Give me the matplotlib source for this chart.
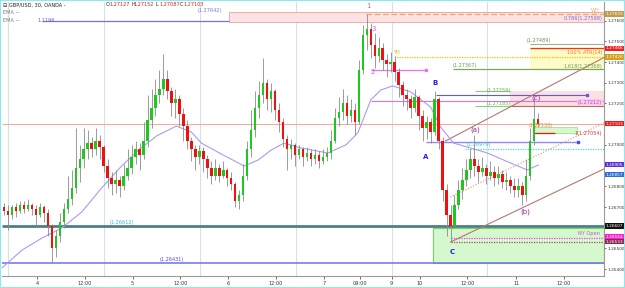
import numpy as np
import matplotlib
matplotlib.use('Agg')
import matplotlib.pyplot as plt
import matplotlib.transforms as mtransforms
from matplotlib.patches import Rectangle

# GBP/USD 30 min candles
first_open = 1.2670
closes = [1.2668, 1.2666, 1.2670, 1.2668, 1.2671, 1.2669, 1.2671, 1.2669, 1.2666, 1.2670,
          1.2667, 1.2661, 1.2650, 1.2656, 1.2663, 1.2669, 1.2674, 1.2679, 1.2689, 1.2693,
          1.2698, 1.2701, 1.2698, 1.2702, 1.2699, 1.2690, 1.2684, 1.2681, 1.2683, 1.2680,
          1.2685, 1.2689, 1.2694, 1.2698, 1.2695, 1.2702, 1.2712, 1.2718, 1.2724, 1.2727,
          1.2732, 1.2726, 1.2720, 1.2722, 1.2715, 1.2709, 1.2702, 1.2698, 1.2694, 1.2697,
          1.2693, 1.2689, 1.2685, 1.2689, 1.2685, 1.2688, 1.2684, 1.2681, 1.2673, 1.2676,
          1.2685, 1.2698, 1.2707, 1.2718, 1.2724, 1.2730, 1.2722, 1.2726, 1.2717, 1.2711,
          1.2703, 1.2698, 1.2700, 1.2695, 1.2698, 1.2694, 1.2696, 1.2693, 1.2695, 1.2692,
          1.2694, 1.2696, 1.2702, 1.2713, 1.2716, 1.2720, 1.2714, 1.2717, 1.2711, 1.2736,
          1.2753, 1.2756, 1.2748, 1.2743, 1.2747, 1.2741, 1.2739, 1.2740, 1.2735, 1.2729,
          1.2724, 1.2722, 1.2718, 1.2723, 1.2714, 1.2708, 1.2711, 1.2706, 1.2722, 1.2702,
          1.2678, 1.2666, 1.2661, 1.2671, 1.2678, 1.2683, 1.2688, 1.2693, 1.2690, 1.2687,
          1.2689, 1.2685, 1.2687, 1.2684, 1.2686, 1.2682, 1.2683, 1.2680, 1.2678, 1.2680,
          1.2676, 1.2685, 1.2702, 1.27127, 1.27103]
highs = [1.2672, 1.2671, 1.2671, 1.2672, 1.2673, 1.2673, 1.2674, 1.2672, 1.2671, 1.2672,
         1.2671, 1.2669, 1.2662, 1.2659, 1.2667, 1.2672, 1.2685, 1.2688, 1.2708, 1.2700,
         1.2708, 1.2707, 1.2704, 1.2708, 1.2705, 1.2700, 1.2693, 1.2687, 1.2688, 1.2685,
         1.2691, 1.2698, 1.2700, 1.2702, 1.2701, 1.2711, 1.2724, 1.2727, 1.2732, 1.2736,
         1.2744, 1.2736, 1.2728, 1.2727, 1.2724, 1.2718, 1.2712, 1.2704, 1.2700, 1.2700,
         1.2699, 1.2695, 1.2692, 1.2693, 1.2691, 1.2692, 1.2689, 1.2687, 1.2682, 1.2678,
         1.2691, 1.2702, 1.2717, 1.2726, 1.2731, 1.2742, 1.2732, 1.2730, 1.2727, 1.2720,
         1.2713, 1.2705, 1.2703, 1.2701, 1.2700, 1.2699, 1.2699, 1.2698, 1.2698, 1.2697,
         1.2698, 1.2699, 1.2707, 1.2718, 1.2723, 1.2727, 1.2724, 1.2722, 1.2720, 1.2741,
         1.2758, 1.2763, 1.2759, 1.2754, 1.2752, 1.2749, 1.2744, 1.2745, 1.2743, 1.2737,
         1.2731, 1.2727, 1.2724, 1.2727, 1.2724, 1.2717, 1.2714, 1.2713, 1.2726, 1.2723,
         1.2704, 1.2681, 1.2671, 1.2676, 1.2683, 1.2689, 1.2693, 1.2698, 1.2705, 1.2693,
         1.2694, 1.2691, 1.2692, 1.2690, 1.2690, 1.2688, 1.2687, 1.2685, 1.2684, 1.2684,
         1.2682, 1.2693, 1.2708, 1.2722, 1.27152]
lows = [1.2666, 1.2659, 1.2664, 1.2665, 1.2667, 1.2667, 1.2668, 1.2666, 1.2661, 1.2665,
        1.2663, 1.2656, 1.2643, 1.2646, 1.2653, 1.2660, 1.2667, 1.2671, 1.2677, 1.2682,
        1.2689, 1.2693, 1.2694, 1.2695, 1.2693, 1.2687, 1.2679, 1.2676, 1.2677, 1.2675,
        1.2678, 1.2683, 1.2686, 1.2691, 1.2688, 1.2693, 1.2699, 1.2708, 1.2714, 1.2720,
        1.2724, 1.2722, 1.2714, 1.2713, 1.2709, 1.2702, 1.2698, 1.2692, 1.2688, 1.2691,
        1.2687, 1.2684, 1.2681, 1.2683, 1.2682, 1.2684, 1.2680, 1.2678, 1.2670, 1.2669,
        1.2673, 1.2683, 1.2694, 1.2704, 1.2713, 1.2720, 1.2717, 1.2716, 1.2712, 1.2706,
        1.2699, 1.2688, 1.2693, 1.2690, 1.2693, 1.2690, 1.2692, 1.2690, 1.2691, 1.2689,
        1.2691, 1.2692, 1.2693, 1.2701, 1.2709, 1.2712, 1.2710, 1.2711, 1.2705, 1.2710,
        1.2734, 1.2746, 1.2742, 1.2737, 1.2740, 1.2736, 1.2733, 1.2735, 1.2731, 1.2723,
        1.2719, 1.2717, 1.2713, 1.2716, 1.2707, 1.2702, 1.2703, 1.2701, 1.2705, 1.2698,
        1.2673, 1.2656, 1.2653, 1.2660, 1.2669, 1.2674, 1.2680, 1.2684, 1.2685, 1.2682,
        1.2685, 1.2681, 1.2683, 1.2680, 1.2681, 1.2679, 1.2678, 1.2677, 1.2675, 1.2675,
        1.2671, 1.2673, 1.2683, 1.2700, 1.27087]
opens = [first_open] + closes[:-1]

# EMA line (bar index, price)
ema_x = [-0.5, 4.5, 9.5, 14.5, 19.5, 24.5, 29.5, 33.75, 38.25, 43.25, 47, 49.5, 54.5,
         60.25, 63.75, 67, 70.25, 74.5, 81.25, 85.75, 88.75, 92, 94.5, 97.5, 102, 107,
         109.5, 112.75, 121.25, 127, 131.25, 134]
ema_y = [1.26406, 1.26492, 1.26550, 1.26599, 1.26676, 1.26792, 1.26898, 1.26975, 1.27043,
         1.27091, 1.27062, 1.27009, 1.26956, 1.26898, 1.26927, 1.26975, 1.27009, 1.26985,
         1.26961, 1.27000, 1.27058, 1.27217, 1.27265, 1.27285, 1.27256, 1.27183, 1.27087,
         1.27009, 1.26961, 1.26913, 1.26879, 1.26903]

price_ticks = [1.264, 1.265, 1.267, 1.268, 1.270, 1.272, 1.273, 1.274, 1.275, 1.276]
time_pos = [8.25, 20.25, 32.25, 44.25, 56.25, 68.25, 80.25, 89.25, 97.25, 104.25, 116.25, 128.5, 140.5]
time_labels = ['4', '12:00', '5', '12:00', '6', '12:00', '7', '09:00', '9', '10', '12:00', '11', '12:00']
session_lines = [1, 25, 49.25, 73.25, 97.25, 121.25]

# price boxes on the right scale
box_prices = [1.27633, 1.27466, 1.27426, 1.27103, 1.26905, 1.26857, 1.26607, 1.26554, 1.26533]
box_colors = ['#c29a4a', '#f02020', '#d4a017', '#f01818', '#5b2fd6', '#2f6fd6', '#111111', '#ff1fd0', '#8a2a50']

fig = plt.figure(figsize=(6.25, 2.88), dpi=100)
ax = fig.add_axes([2 / 625, 12 / 288, 602 / 625, 274 / 288])
ax.set_xlim(-0.5, 150.5)
ax.set_ylim(1.26367, 1.27690)
FS = 3.6
BFS = 3.1

for v in session_lines:
    ax.axvline(v, color='#d5e0ec', lw=0.8, zorder=0)

# zones
ax.add_patch(Rectangle((56.5, 1.27594), 94, 0.00048, fc='#fbe3e3', ec='#f0a0a0', lw=0.6, zorder=1))
ax.add_patch(Rectangle((132, 1.27367), 18.5, 0.00099, fc='#fdfbc8', ec='none', zorder=1))
ax.add_patch(Rectangle((127, 1.27188), 23.5, 0.00071, fc='#fbe0e0', ec='none', zorder=1))
ax.add_patch(Rectangle((132.75, 1.27057), 11, 0.00030, fc='#d8f7cf', ec='#8ee07a', lw=0.5, zorder=1))
ax.add_patch(Rectangle((107.5, 1.26430), 43, 0.00169, fc='#d6f8cf', ec='#6edc5a', lw=0.8, zorder=1))

# horizontal levels
ax.hlines(1.27599, 9.5, 56.5, color='#7b6cf0', lw=0.9, zorder=2)
ax.hlines(1.27632, 90.75, 150.5, color='#e8b060', lw=1.0, ls=(0, (4, 2)), zorder=2)
ax.hlines(1.27489, 132, 150.5, color='#9bb88a', lw=0.8, zorder=2)
ax.hlines(1.27466, 132, 150.5, color='#ff3010', lw=0.9, zorder=2)
ax.hlines(1.27426, 97.75, 150.5, color='#f0c000', lw=0.9, ls=(0, (1, 1)), zorder=2)
ax.hlines(1.27367, 112.5, 150.5, color='#7aa860', lw=0.9, zorder=2)
ax.hlines(1.27360, 92, 105.75, color='#f070f0', lw=0.9, zorder=2)
ax.plot([105.75], [1.27360], 's', ms=1.5, color='#f070f0', zorder=2)
ax.hlines(1.27259, 118.25, 127, color='#8ccf7a', lw=0.8, zorder=2)
ax.hlines(1.27188, 118.25, 127, color='#8ccf7a', lw=0.8, zorder=2)
ax.hlines(1.27188, 127, 150.5, color='#b07060', lw=0.8, zorder=2)
ax.hlines(1.27241, 108.25, 146.25, color='#5a5af0', lw=0.8, zorder=2)
ax.plot([146.25], [1.27241], 's', ms=1.5, color='#5a5af0', zorder=2)
ax.hlines(1.27212, 92, 150.5, color='#e070e0', lw=0.8, zorder=2)
ax.hlines(1.27103, -0.5, 150.5, color='#f4a6a0', lw=0.7, zorder=2)
ax.hlines(1.27057, 132.75, 138.25, color='#f01010', lw=0.9, zorder=2)
ax.hlines(1.27014, 105.75, 144, color='#8c8cf4', lw=1.0, zorder=2)
ax.plot([144], [1.27014], 's', ms=1.5, color='#4a4af0', zorder=2)
ax.hlines(1.26980, 115.75, 150.5, color='#60d0e0', lw=0.9, ls=(0, (1, 1)), zorder=2)
ax.hlines(1.26608, -0.5, 150.5, color='#4f7f86', lw=2.0, zorder=2)
ax.hlines(1.26552, 112, 150.5, color='#f040f0', lw=0.9, ls=(0, (1, 1)), zorder=2)
ax.hlines(1.26531, 112, 150.5, color='#a05050', lw=0.9, ls=(0, (1, 1)), zorder=2)
ax.hlines(1.26430, -0.5, 150.5, color='#7070f0', lw=1.1, zorder=2)

# channel lines
ax.plot([112, 150.5], [1.26531, 1.26884], color='#b07a70', lw=0.8, zorder=2)
ax.plot([112, 150.5], [1.26748, 1.27106], color='#e0907a', lw=0.8, ls=(0, (1, 1.5)), zorder=2)
ax.plot([110.75, 150.5], [1.27019, 1.27422], color='#b07a70', lw=0.8, zorder=2)

# EMA
ax.plot(ema_x, ema_y, color='#a89cf4', lw=0.8, zorder=3)

# candles
x = np.arange(len(closes))
ax.vlines(x, lows, highs, color='#8a8a8a', lw=0.6, zorder=4)
for i in range(len(closes)):
    o, c = opens[i], closes[i]
    col = '#1fc81f' if c >= o else '#f01010'
    h = max(abs(c - o), 0.00002)
    ax.bar(x[i], h, bottom=min(o, c), width=0.62, color=col, lw=0, zorder=5)

# chart labels
def lab(xv, yv, s, col, **kw):
    ax.text(xv, yv, s, color=col, fontsize=FS, zorder=6, **kw)

lab(51.5, 1.27638, '(1.27642)', '#8070e0', ha='center', va='bottom')
lab(150, 1.27608, '0.786(1.27598)', '#7a6ad8', ha='right', va='center')
lab(149.5, 1.27650, 'WH', '#e8b060', ha='right', va='center')
lab(131, 1.27494, '(1.27489)', '#6e8e60', ha='left', va='bottom')
lab(150, 1.27445, '100% ATR(14)', '#ff7020', ha='right', va='center')
lab(97.5, 1.27445, 'YH', '#f0b000', ha='left', va='center')
lab(112.5, 1.27372, '(1.27367)', '#6e9e58', ha='left', va='bottom')
lab(150, 1.27380, '1.618(1.27368)', '#6e9e58', ha='right', va='center')
lab(121, 1.27262, '(1.27259)', '#6eae58', ha='left', va='center')
lab(121, 1.27198, '(1.27185)', '#6eae58', ha='left', va='center')
ax.text(150, 1.27205, '(1.27212)', color='#c050c0', fontsize=FS, ha='right', va='center', zorder=6,
        bbox=dict(boxstyle='square,pad=0.1', fc='#f8c8f0', ec='none'))
lab(131.5, 1.27096, '(1.27133)', '#f08030', ha='left', va='center')
lab(150, 1.27057, '1(1.27054)', '#c04040', ha='right', va='center')
lab(116, 1.26990, '(1.26979)', '#40b8d0', ha='left', va='bottom')
lab(26.5, 1.26615, '(1.26612)', '#40b8d0', ha='left', va='bottom')
lab(39, 1.26437, '(1.26431)', '#5050e0', ha='left', va='bottom')
lab(149.5, 1.26570, 'NY Open', '#d050d0', ha='right', va='center')

wave = dict(fontsize=5, zorder=6, ha='center', va='center')
ax.text(91.5, 1.27672, '1', color='#e060e0', **wave)
ax.text(92.8, 1.27562, '3', color='#e060e0', **wave)
ax.text(92.5, 1.27352, '2', color='#e060e0', **wave)
ax.text(108.2, 1.27298, 'B', color='#2020e0', fontweight='bold', **wave)
ax.text(105.8, 1.26940, 'A', color='#2020e0', fontweight='bold', **wave)
ax.text(112.3, 1.26482, 'C', color='#2020e0', fontweight='bold', **wave)
ax.text(118.3, 1.27072, '(a)', color='#a020a0', **wave)
ax.text(130.8, 1.26676, '(b)', color='#a020a0', **wave)
ax.text(133.5, 1.27227, '(c)', color='#a020a0', **wave)

# axes styling
for s in ['top', 'left']:
    ax.spines[s].set_visible(False)
ax.spines['right'].set_color('#9a9a9a')
ax.spines['bottom'].set_color('#9a9a9a')
ax.spines['right'].set_linewidth(0.8)
ax.spines['bottom'].set_linewidth(0.8)
ax.yaxis.tick_right()
ax.set_yticks(price_ticks)
ax.set_yticklabels(['%.5f' % p for p in price_ticks])
ax.set_xticks(time_pos)
ax.set_xticklabels(time_labels)
ax.tick_params(axis='x', labelsize=FS, colors='#333333', length=2, width=0.5, pad=1.5)
ax.tick_params(axis='y', labelsize=BFS, colors='#333333', length=1.5, width=0.5, pad=0.8)

trans = mtransforms.blended_transform_factory(ax.transAxes, ax.transData)
for p, col in zip(box_prices, box_colors):
    ax.text(1.003, p, '%.5f' % p, transform=trans, fontsize=BFS, color='white', ha='left', va='center',
            zorder=7, clip_on=False, bbox=dict(boxstyle='square,pad=0.2', fc=col, ec='none'))

# header
fig.text(3 / 625, 1 - 5 / 288, '\u229f GBP/USD, 30, OANDA -', fontsize=FS, color='#222222', va='center')
for xp, letter, val in [(106, 'O', '1.27127'), (131, 'H', '1.27152'), (156, 'L', '1.27087'), (180, 'C', '1.27103')]:
    fig.text(xp / 625, 1 - 5 / 288, letter, fontsize=FS, color='#222222', va='center')
    fig.text((xp + 3) / 625, 1 - 5 / 288, val, fontsize=FS, color='#e02020', va='center')
fig.text(3 / 625, 1 - 13 / 288, 'EMA ~', fontsize=FS, color='#777777', va='center')
fig.text(3 / 625, 1 - 21 / 288, 'EMA ~', fontsize=FS, color='#777777', va='center')
fig.text(38 / 625, 1 - 21 / 288, '1.1196', fontsize=FS, color='#6a5ae0', va='center')

fig.patches.append(Rectangle((0, 0), 1, 1, transform=fig.transFigure, fill=False,
                             ec='#8ee8f2', lw=1.5, zorder=10))

fig.savefig('out.png', dpi=100)
